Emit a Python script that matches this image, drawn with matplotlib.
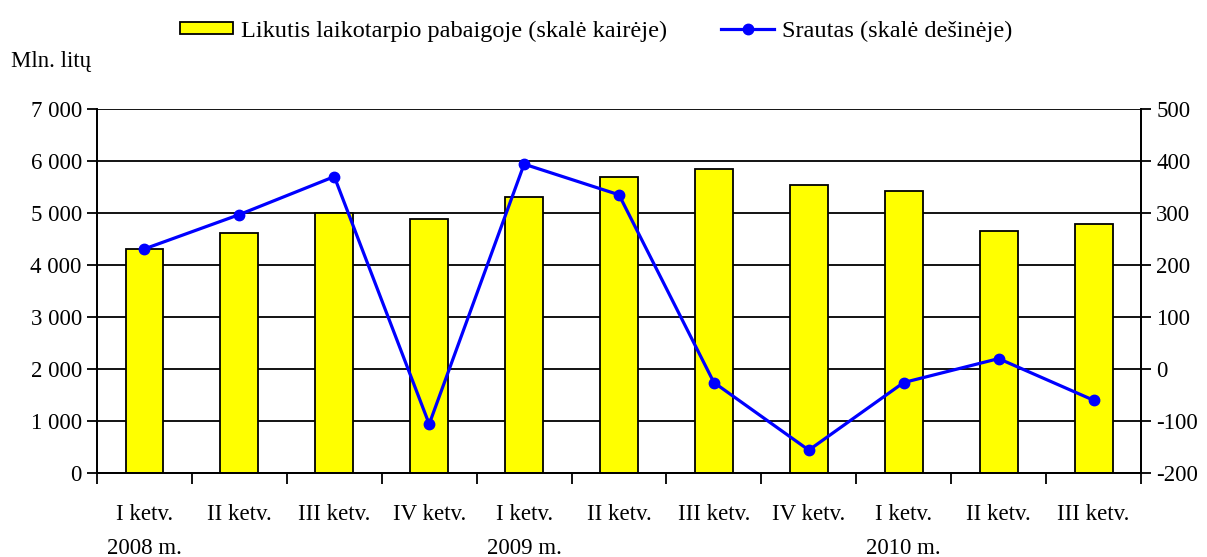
import matplotlib
matplotlib.use("Agg")
import matplotlib.pyplot as plt
import matplotlib.transforms as mtransforms
import numpy as np

plt.rcParams['font.family'] = ['Liberation Serif', 'DejaVu Serif']
plt.rcParams['axes.unicode_minus'] = False

quarters = ["I ketv.", "II ketv.", "III ketv.", "IV ketv.", "I ketv.", "II ketv.",
            "III ketv.", "IV ketv.", "I ketv.", "II ketv.", "III ketv."]
years = ["2008 m.", "", "", "", "2009 m.", "", "", "", "2010 m.", "", ""]
balance = [4300, 4620, 5000, 4880, 5300, 5690, 5840, 5530, 5420, 4645, 4795]
flow = [231, 297, 370, -106, 394, 335, -26, -156, -26, 20, -60]

FS = 16.5

fig = plt.figure(figsize=(12.07, 5.57), dpi=100)
ax = fig.add_axes([0.0804, 0.1508, 0.8649, 0.6535])
ax2 = ax.twinx()

x = np.arange(len(quarters))
ax.bar(x, balance, width=0.4, color='#FFFF00', edgecolor='black', linewidth=1.3,
       zorder=3, label='Likutis laikotarpio pabaigoje (skalė kairėje)')
ax.set_xlim(-0.5, len(quarters) - 0.5)
ax.set_ylim(0, 7000)
ax.set_yticks(np.arange(0, 7001, 1000))
ax.set_yticklabels([f"{v:,}".replace(",", " ") for v in range(0, 7001, 1000)])
ax.yaxis.grid(True, color='black', linewidth=1.3, zorder=0)
ax.set_axisbelow(True)

ax.set_xticks(x)
ax.set_xticklabels(quarters)
ax.set_xticks(np.arange(-0.5, len(quarters)), minor=True)
ax.tick_params(axis='x', which='major', length=0, pad=22, labelsize=FS)
ax.tick_params(axis='x', which='minor', length=8, width=1.3, direction='out')
ax.tick_params(axis='y', length=7, width=1.3, direction='out', labelsize=FS, pad=4)

trans = mtransforms.blended_transform_factory(ax.transData, fig.transFigure)
for xi, yr in zip(x, years):
    if yr:
        ax.text(xi, 0.016, yr, transform=trans, ha='center', va='center',
                fontsize=FS, clip_on=False)

ax2.plot(x, flow, color='#0000FF', linewidth=2.3, marker='o', markersize=7.5,
         zorder=5, label='Srautas (skalė dešinėje)')
ax2.set_ylim(-200, 500)
ax2.set_yticks(np.arange(-200, 501, 100))
ax2.tick_params(axis='y', length=7, width=1.3, direction='out', labelsize=FS, pad=4)

for a in (ax, ax2):
    a.spines['top'].set_visible(False)
    for s in ('left', 'right', 'bottom'):
        a.spines[s].set_linewidth(1.3)

h1, l1 = ax.get_legend_handles_labels()
h2, l2 = ax2.get_legend_handles_labels()
fig.legend(h1 + h2, l1 + l2, loc='center', bbox_to_anchor=(0.494, 0.944), ncol=2,
           frameon=False, fontsize=17.5, handlelength=2.2, handleheight=0.42,
           columnspacing=2.2, handletextpad=0.33)

fig.text(0.009, 0.890, "Mln. litų", fontsize=FS, va='center', ha='left')

fig.savefig("out.png", dpi=100)
